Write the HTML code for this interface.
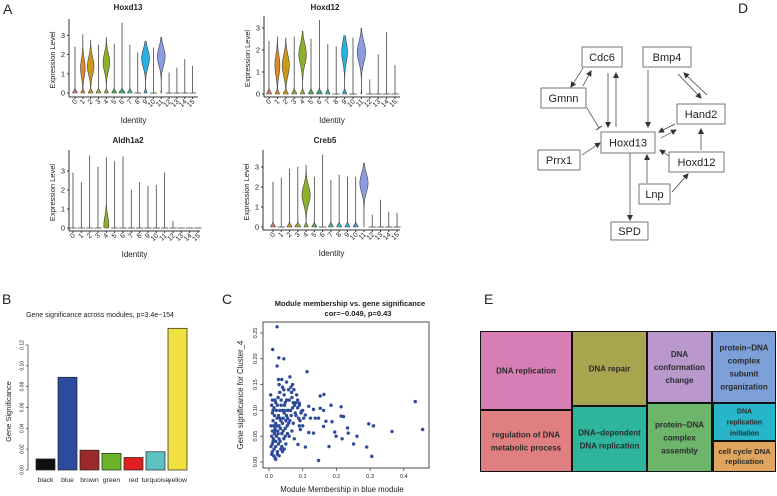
<!DOCTYPE html>
<html><head><meta charset="utf-8"><style>
body{margin:0;background:#fff;}
svg{display:block;font-family:"Liberation Sans",sans-serif;}
</style></head><body>
<svg id="fig" width="777" height="496" viewBox="0 0 777 496" xmlns="http://www.w3.org/2000/svg"></svg>
<script>
const clusters=['0','1','2','3','4','5','6','7','8','9','10','11','12','13','14','15'];
const violinColors=['#d9756e','#e0882a','#c99a1a','#a9a43a','#8cb02a','#4ab050','#3ab070','#3ab59a','#30b5b8','#2ab0e0','#3aa0f0','#8c9be0','#9a95f0','#b88ae8','#d07ad8','#e070c8'];
const hoxd13Max=[2.4,3.05,2.75,2.5,2.9,2.55,3.65,2.5,2.1,2.7,2.35,2.9,1.05,1.3,1.75,1.4];
const hoxd13Mid=[0,1.3,1.4,0,1.6,0,0,0,0,1.8,0,1.9,0,0,0,0];
const hoxd13Body=[0,0.6,0.85,0,0.85,0,0,0,0,1,0,1,0,0,0,0];
const hoxd13Zero=[0.6,0.5,0.6,0.6,0.5,0.6,0.8,0.6,0,0.4,0,0.1,0,0,0,0];
const hoxd12Max=[2.4,2.6,2.55,2.6,2.85,2.5,3.35,2.25,2.15,2.65,2.55,3.0,0.65,1.8,2.8,1.3];
const hoxd12Mid=[0,1.3,1.3,0,1.8,0,0,0,0,1.9,0,1.9,0,0,0,0];
const hoxd12Body=[0,0.6,0.85,0,0.9,0,0,0,0,0.7,0,1,0,0,0,0];
const hoxd12Zero=[0.6,0.5,0.6,0.6,0.5,0.6,0.7,0.5,0,0.5,0,0.1,0,0,0,0];
const aldhMax=[2.9,2.4,3.8,3.2,3.7,3.5,3.75,2.0,2.4,2.2,2.25,2.9,0.35,0,0,0];
const aldhMid=[0,0,0,0,0.15,0,0,0,0,0,0,0,0,0,0,0];
const aldhBody=[0,0,0,0,0.6,0,0,0,0,0,0,0,0,0,0,0];
const aldhZero=[0,0,0,0,0,0,0,0,0,0,0,0,0,0,0,0];
const creb5Max=[2.25,2.45,2.9,3.0,3.1,2.5,3.6,2.35,2.6,2.5,2.5,3.2,0.6,1.35,0.75,0.7];
const creb5Mid=[0,0,0,0,1.6,0,0,0,0,0,0,2.2,0,0,0,0];
const creb5Body=[0,0,0,0,1,0,0,0,0,0,0,1,0,0,0,0];
const creb5Zero=[0.6,0,0.6,0.7,0.5,0.6,0,0.6,0.6,0.6,0.6,0,0,0,0,0];
const exprTicks=[0,1,2,3];

const modules=['black','blue','brown','green','red','turquoise','yellow'];
const moduleGS=[0.0106,0.089,0.019,0.016,0.012,0.0175,0.136];
const moduleColors=['#111111','#2b4c9c','#9c2a2a','#6cb52a','#e02020','#5ec0c0','#f0e040'];
const bTicks=[0,0.02,0.04,0.06,0.08,0.10,0.12];
const bTickLabels=['0.00','0.02','0.04','0.06','0.08','0.10','0.12'];

const mmValues=[0.024,0.011,0.029,0.044,0.024,0.113,0.434,0.456,0.365,0.296,0.31,0.305,0.147,0.29,0.251,0.261,0.233,0.235,0.217,0.195,0.199,0.214,0.221,0.214,0.184,0.178,0.163,0.152,0.187,0.169,0.162,0.152,0.162,0.147,0.132,0.118,0.108,0.086,0.093,0.118,0.132,0.108,0.103,0.137,0.123,0.096,0.090,
0.005,0.008,0.01,0.012,0.006,0.01,0.008,0.012,0.006,0.01,0.014,0.018,0.02,0.022,0.018,0.02,0.016,0.022,0.018,0.025,0.028,0.03,0.026,0.03,0.028,0.025,0.03,0.035,0.038,0.035,0.04,0.036,0.032,0.03,0.028,0.04,0.045,0.048,0.045,0.05,0.048,0.044,0.05,0.055,0.058,0.055,0.06,0.058,0.052,0.062,0.065,0.068,0.07,0.066,0.072,0.068,0.075,0.078,0.08,0.082,0.085,0.088,0.09,0.074,0.07,0.012,0.014,0.016,0.013,0.02,0.024,0.027,0.032,0.034,0.04,0.042,0.046,0.052,0.056,0.062,0.064,0.06,0.015,0.01,0.008,0.02,0.025,0.033,0.038,0.042,0.048,0.054,0.058,0.052,0.044,0.038,0.036,0.024,0.02,0.015,0.01,0.017,0.027,0.032,0.046,0.076,0.08,0.085,0.09,0.095,0.1,0.092,0.1,0.072,0.067,0.055,0.04,0.045];
const gsValues=[0.262,0.218,0.202,0.200,0.186,0.175,0.117,0.063,0.059,0.074,0.07,0.011,0.003,0.029,0.035,0.050,0.066,0.056,0.045,0.058,0.050,0.107,0.088,0.089,0.110,0.030,0.131,0.128,0.078,0.079,0.069,0.104,0.100,0.085,0.056,0.057,0.029,0.034,0.063,0.108,0.102,0.091,0.085,0.085,0.085,0.098,0.114,
0.13,0.11,0.095,0.08,0.07,0.06,0.05,0.04,0.03,0.02,0.012,0.008,0.03,0.05,0.065,0.075,0.09,0.1,0.12,0.11,0.09,0.07,0.06,0.045,0.035,0.02,0.012,0.025,0.055,0.08,0.1,0.12,0.135,0.15,0.16,0.145,0.13,0.115,0.095,0.08,0.065,0.045,0.035,0.055,0.075,0.1,0.12,0.14,0.155,0.165,0.145,0.125,0.105,0.09,0.075,0.06,0.045,0.095,0.115,0.13,0.105,0.085,0.07,0.14,0.15,0.1,0.07,0.055,0.045,0.04,0.085,0.125,0.1,0.065,0.075,0.06,0.11,0.09,0.12,0.08,0.1,0.05,0.025,0.035,0.015,0.005,0.015,0.04,0.03,0.085,0.05,0.07,0.1,0.12,0.14,0.16,0.11,0.07,0.115,0.105,0.12,0.06,0.055,0.085,0.1,0.11,0.09,0.12,0.11,0.095,0.1,0.08,0.07,0.115,0.135,0.085,0.02,0.025];
const cXTicks=[0,0.1,0.2,0.3,0.4];
const cXTickLabels=['0.0','0.1','0.2','0.3','0.4'];
const cYTicks=[0,0.05,0.10,0.15,0.20,0.25];
const cYTickLabels=['0.00','0.05','0.10','0.15','0.20','0.25'];

const NS='http://www.w3.org/2000/svg';
const svg=document.getElementById('fig');
function mk(tag,attrs,name,parent){
  const el=document.createElementNS(NS,tag);
  for(const k in attrs) el.setAttribute(k,attrs[k]);
  
  
  (parent||svg).appendChild(el);
  return el;
}
function txt(x,y,s,attrs,name,parent){
  const a=Object.assign({x:x,y:y,fill:'#222'},attrs||{});
  const t=mk('text',a,name,parent);
  t.textContent=s;
  return t;
}
function line(x1,y1,x2,y2,name,parent,extra){
  return mk('line',Object.assign({x1:x1,y1:y1,x2:x2,y2:y2,stroke:'#333','stroke-width':1},extra||{}),name,parent);
}
txt(3,14,'A',{'font-size':14},'panel-label-a');
txt(738,13,'D',{'font-size':14},'panel-label-d');
txt(2,304,'B',{'font-size':14},'panel-label-b');
txt(222,304,'C',{'font-size':14},'panel-label-c');
txt(484,304,'E',{'font-size':14},'panel-label-e');

function violinPanel(cfg,maxA,midA,bodyA,zeroA){
  const g=mk('g',{},'violin-panel-'+cfg.title.toLowerCase());
  const yS=v=>cfg.y0-v*cfg.ppu;
  const xS=i=>cfg.cx0+i*cfg.dx;
  txt(cfg.titleX,cfg.titleY,cfg.title,{'font-size':8,'font-weight':'bold','text-anchor':'middle'},'violin-title',g);
  line(cfg.ax,cfg.top,cfg.ax,cfg.xy,'y-axis-line',g);
  line(cfg.ax,cfg.xy,cfg.xEnd,cfg.xy,'x-axis-line',g);
  exprTicks.forEach(t=>{
    line(cfg.ax-2,yS(t),cfg.ax,yS(t),'y-tick',g);
    txt(cfg.ax-4,yS(t)+2.5,String(t),{'font-size':7.5,'text-anchor':'end'},'y-tick-label',g);
  });
  txt(0,0,'Expression Level',{'font-size':7.5,'text-anchor':'middle',transform:`translate(${cfg.ax-14},${(cfg.top+cfg.xy)/2+2}) rotate(-90)`},'y-axis-title',g);
  txt((cfg.ax+cfg.xEnd)/2,cfg.xy+26,'Identity',{'font-size':8,'text-anchor':'middle'},'x-axis-title',g);
  clusters.forEach((c,i)=>{
    const cx=xS(i);
    line(cx,cfg.xy,cx,cfg.xy+2,'x-tick',g);
    txt(0,0,c,{'font-size':7,'text-anchor':'end',transform:`translate(${cx+2.5},${cfg.xy+5}) rotate(-45)`},'x-tick-label',g);
    const mx=maxA[i];
    if(zeroA[i]===0&&bodyA[i]===0){
      line(cx-cfg.dx/2+0.5,cfg.y0,cx+cfg.dx/2-0.5,cfg.y0,'violin-flat-'+c,g,{'stroke-width':0.8,stroke:'#444'});
    }
    if(mx<=0) return;
    const hw=cfg.dx*0.5;
    const L=[],R=[];
    const n=50;
    for(let k=0;k<=n;k++){
      const v=mx*k/n;
      let w=Math.max(hw*zeroA[i]*Math.exp(-Math.pow(v/0.15,2)),hw*bodyA[i]*Math.exp(-Math.pow((v-midA[i])/0.65,2)),0.1);
      L.push((cx-w).toFixed(2)+','+yS(v).toFixed(2));
      R.unshift((cx+w).toFixed(2)+','+yS(v).toFixed(2));
    }
    mk('polygon',{points:L.concat(R).join(' '),fill:violinColors[i],stroke:'#444','stroke-width':0.6},'violin-'+c,g);
  });
}
violinPanel({title:'Hoxd13',titleX:128,titleY:10,ax:69,y0:93,ppu:19.2,cx0:75,dx:7.84,top:19,xy:97,xEnd:198},hoxd13Max,hoxd13Mid,hoxd13Body,hoxd13Zero);
violinPanel({title:'Hoxd12',titleX:325,titleY:10,ax:264,y0:94,ppu:22,cx0:269,dx:8.4,top:16,xy:97,xEnd:400},hoxd12Max,hoxd12Mid,hoxd12Body,hoxd12Zero);
violinPanel({title:'Aldh1a2',titleX:128,titleY:143,ax:69,y0:228,ppu:19,cx0:73,dx:8.33,top:150,xy:231,xEnd:200},aldhMax,aldhMid,aldhBody,aldhZero);
violinPanel({title:'Creb5',titleX:325,titleY:143,ax:263,y0:227,ppu:20,cx0:273,dx:8.27,top:150,xy:230,xEnd:400},creb5Max,creb5Mid,creb5Body,creb5Zero);

(function(){
  const g=mk('g',{},'panel-b-bar-chart');
  const base=470, ppu=1042;
  const yS=v=>base-v*ppu;
  txt(100,317,'Gene significance across modules, p=3.4e\u2212154',{'font-size':7,'text-anchor':'middle'},'chart-title',g);
  line(28,yS(0),28,yS(0.12),'y-axis-line',g,{'stroke-width':0.7});
  bTicks.forEach((t,i)=>{
    line(26,yS(t),28,yS(t),'y-tick',g,{'stroke-width':0.7});
    txt(0,0,bTickLabels[i],{'font-size':5,'text-anchor':'middle',transform:`translate(23.5,${yS(t)}) rotate(-90)`},'y-tick-label',g);
  });
  txt(0,0,'Gene Significance',{'font-size':7.5,'text-anchor':'middle',transform:`translate(11,${yS(0.06)+4}) rotate(-90)`},'y-axis-title',g);
  modules.forEach((m,i)=>{
    const x=36+i*22;
    mk('rect',{x:x,y:yS(moduleGS[i]),width:19,height:moduleGS[i]*ppu,fill:moduleColors[i],stroke:'#222','stroke-width':0.7},'bar-'+m,g);
    txt(x+9.5,482,m,{'font-size':6.8,'text-anchor':'middle'},'x-label-'+m,g);
  });
})();

(function(){
  const g=mk('g',{},'panel-c-scatter');
  const xS=v=>269+v*337, yS=v=>462-v*516;
  txt(350,306,'Module membership vs. gene significance',{'font-size':7.5,'font-weight':'bold','text-anchor':'middle'},'chart-title',g);
  txt(358,316,'cor=\u22120.049, p=0.43',{'font-size':7.5,'font-weight':'bold','text-anchor':'middle'},'chart-subtitle',g);
  mk('rect',{x:263,y:322,width:166,height:146,fill:'none',stroke:'#222','stroke-width':0.8},'plot-frame',g);
  cXTicks.forEach((t,i)=>{
    line(xS(t),468,xS(t),471,'x-tick',g,{'stroke-width':0.7});
    txt(xS(t),478,cXTickLabels[i],{'font-size':5.5,'text-anchor':'middle'},'x-tick-label',g);
  });
  cYTicks.forEach((t,i)=>{
    line(260,yS(t),263,yS(t),'y-tick',g,{'stroke-width':0.7});
    txt(0,0,cYTickLabels[i],{'font-size':5.5,'text-anchor':'middle',transform:`translate(257,${yS(t)}) rotate(-90)`},'y-tick-label',g);
  });
  txt(342,492,'Module Membership in blue module',{'font-size':7.8,'text-anchor':'middle'},'x-axis-title',g);
  txt(0,0,'Gene significance for Cluster_4',{'font-size':7.8,'text-anchor':'middle',transform:`translate(243,395) rotate(-90)`},'y-axis-title',g);
  mmValues.forEach((v,i)=>{
    mk('circle',{cx:xS(v),cy:yS(gsValues[i]),r:1.7,fill:'#2e4a9a'},'point',g);
  });
})();

(function(){
  const g=mk('g',{},'panel-d-network');
  const defs=mk('defs',{},'defs',g);
  const mark=mk('marker',{id:'arr',markerWidth:6,markerHeight:6,refX:5,refY:3,orient:'auto',markerUnits:'userSpaceOnUse'},'arrow-marker',defs);
  mk('path',{d:'M0,0 L6,3 L0,6 z',fill:'#333'},'arrow-head',mark);
  const nodes=[['Cdc6',582,47,40,20],['Bmp4',643,47,48,20],['Gmnn',541,88,45,20],['Hand2',677,104,48,20],['Hoxd13',601,132,54,21],['Prrx1',538,150,42,20],['Hoxd12',669,152,55,20],['Lnp',639,184,31,20],['SPD',611,222,37,18]];
  const edges=[[583,68,571,87],[583,86,591,71],[608,73,608,127],[616,127,616,73],[648,70,648,127],[678,74,701,98],[707,95,684,73],[675,124,659,132],[661,138,676,130],[582,155,600,143],[669,156,660,150],[701,150,701,129],[647,183,647,155],[672,192,688,174],[630,153,630,220]];
  edges.forEach(e=>line(e[0],e[1],e[2],e[3],'edge-arrow',g,{'stroke-width':0.7,'marker-end':'url(#arr)'}));
  line(587,108,599,128,'edge-inhibit',g,{'stroke-width':0.7});
  line(596,130,602,126,'inhibit-bar',g,{'stroke-width':0.9});
  nodes.forEach(n=>{
    mk('rect',{x:n[1],y:n[2],width:n[3],height:n[4],fill:'#fff',stroke:'#555','stroke-width':0.8},'node-'+n[0].toLowerCase(),g);
    txt(n[1]+n[3]/2,n[2]+n[4]/2+4,n[0],{'font-size':11,'text-anchor':'middle'},'node-label-'+n[0].toLowerCase(),g);
  });
})();

(function(){
  const g=mk('g',{},'panel-e-treemap');
  mk('rect',{x:480,y:331,width:296,height:141,fill:'#111'},'treemap-bg',g);
  const cells=[
    [481,332,90,77,'#d77fb4',['DNA replication']],
    [481,411,90,60,'#e07f82',['regulation of DNA','metabolic process']],
    [573,332,73,73,'#a8a54e',['DNA repair']],
    [573,407,73,64,'#2fb59c',['DNA\u2212dependent','DNA replication']],
    [648,332,63,70,'#b998cc',['DNA','conformation','change']],
    [648,404,63,67,'#6db56b',['protein\u2212DNA','complex','assembly']],
    [713,332,62,70,'#7da0d8',['protein\u2212DNA','complex','subunit','organization']],
    [714,404,61,36,'#27b5c9',['DNA','replication','initiation']],
    [714,442,61,29,'#e0a45e',['cell cycle DNA','replication']]
  ];
  cells.forEach(c=>{
    const nm=c[5].join(' ').toLowerCase().replace(/[^a-z]+/g,'-');
    mk('rect',{x:c[0],y:c[1],width:c[2],height:c[3],fill:c[4]},'tile-'+nm,g);
    const small=c[3]<40;
    const fs=small?(c[5].length>=3?7:7.6):8;
    const lh=small?(c[5].length>=3?11:10):13;
    const y0=c[1]+c[3]/2-(c[5].length-1)*lh/2+fs*0.35;
    c[5].forEach((s,k)=>txt(c[0]+c[2]/2,y0+k*lh,s,{'font-size':fs,'font-weight':'bold','text-anchor':'middle',fill:'#2a2a2a'},'tile-label',g));
  });
})();
</script>
</body></html>
